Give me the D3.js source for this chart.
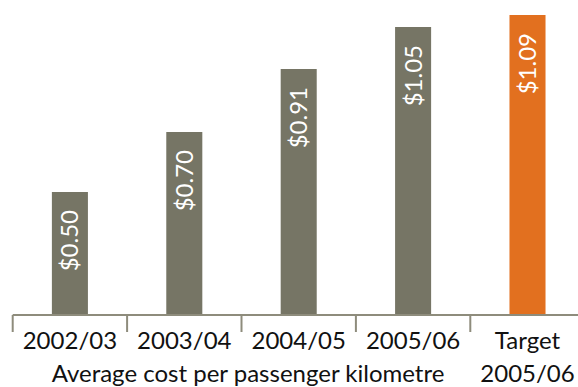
<!DOCTYPE html>
<html>
<head>
<meta charset="utf-8">
<script src="https://cdn.jsdelivr.net/npm/d3@7"></script>
<style>
  html, body { margin: 0; padding: 0; background: #ffffff; }
  svg { display: block; }
  text { font-family: Lato, "Open Sans", sans-serif; font-weight: 400; }
</style>
</head>
<body>
<svg id="chart" width="578" height="387"></svg>
<script>
// Average cost per passenger kilometre, by year, plus the target
const categories = ["2002/03", "2003/04", "2004/05", "2005/06", "Target\n2005/06"];
const costs = [0.50, 0.70, 0.91, 1.05, 1.09];
const valueLabels = ["$0.50", "$0.70", "$0.91", "$1.05", "$1.09"];
const isTarget = [false, false, false, false, true];
const axisTitle = "Average cost per passenger kilometre";

const W = 578, H = 387;
const baseY = 315;

const svg = d3.select("#chart");

const x = d3.scaleBand()
  .domain(categories)
  .range([12.7, 584.7])
  .paddingInner(0.685)
  .paddingOuter(0.3425);

const y = d3.scaleLinear()
  .domain([0.09, 1.09])
  .range([baseY, 15]);

const data = categories.map((c, i) => ({ cat: c, v: costs[i], label: valueLabels[i], target: isTarget[i] }));

// bars
svg.append("g")
  .selectAll("rect")
  .data(data)
  .join("rect")
  .attr("x", d => x(d.cat))
  .attr("y", d => y(d.v))
  .attr("width", x.bandwidth())
  .attr("height", d => baseY - y(d.v))
  .attr("fill", d => d.target ? "#e2701f" : "#767565");

// value labels, rotated inside each bar
svg.append("g")
  .selectAll("text")
  .data(data)
  .join("text")
  .attr("transform", d => `translate(${x(d.cat) + x.bandwidth() / 2 + 8.5},${y(d.v) + 18}) rotate(-90)`)
  .attr("text-anchor", "end")
  .attr("fill", "#ffffff")
  .attr("font-size", 24)
  .text(d => d.label);

// category axis: baseline with ticks at band boundaries
const axisG = svg.append("g");
axisG.append("line")
  .attr("x1", x.range()[0]).attr("x2", W)
  .attr("y1", baseY).attr("y2", baseY)
  .attr("stroke", "#8e8c7c").attr("stroke-width", 2);

const step = x.step();
axisG.selectAll("line.tick")
  .data(categories)
  .join("line")
  .attr("class", "tick")
  .attr("x1", (d, i) => x.range()[0] + i * step)
  .attr("x2", (d, i) => x.range()[0] + i * step)
  .attr("y1", baseY).attr("y2", baseY + 17)
  .attr("stroke", "#8e8c7c").attr("stroke-width", 2);

const catText = axisG.selectAll("text.cat")
  .data(data)
  .join("text")
  .attr("class", "cat")
  .attr("text-anchor", "middle")
  .attr("font-size", 24)
  .attr("fill", "#111111");

catText.each(function(d) {
  const lines = d.cat.split("\n");
  const t = d3.select(this);
  lines.forEach((ln, k) => {
    t.append("tspan")
      .attr("x", x(d.cat) + x.bandwidth() / 2)
      .attr("y", 349 + k * 33)
      .text(ln);
  });
});

svg.append("text")
  .attr("x", 248)
  .attr("y", 382)
  .attr("text-anchor", "middle")
  .attr("font-size", 24)
  .attr("fill", "#111111")
  .text(axisTitle);
</script>
</body>
</html>
